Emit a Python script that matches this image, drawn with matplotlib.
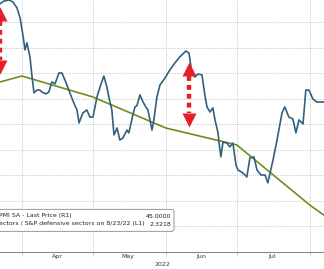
import numpy as np
import matplotlib
matplotlib.use('Agg')
import matplotlib.pyplot as plt
import matplotlib.dates as mdates
from matplotlib.patches import FancyBboxPatch
from datetime import datetime

# cyclicals / defensives ratio (L1), days counted from 2022-04-01
ratio_days = [-9.3, -7.6, -5.5, -3.8, -2.1, -0.8, 0.4, 1.3, 2.1, 3.4,
              4.2, 5.1, 6.4, 7.6, 8.5, 10.2, 11.4, 12.7, 14.0, 15.7,
              16.9, 18.2, 20.3, 22.0, 23.3, 24.2, 25.8, 27.5, 28.8, 30.1,
              31.8, 33.1, 34.7, 36.0, 36.9, 38.1, 39.0, 40.3, 41.5, 42.8,
              44.5, 45.3, 47.0, 47.9, 48.7, 50.0, 51.3, 52.5, 53.4, 55.1,
              55.9, 57.2, 58.5, 60.6, 62.7, 64.8, 66.9, 69.5, 70.8, 72.0,
              73.3, 74.6, 76.3, 77.5, 78.4, 79.7, 80.9, 81.8, 83.1, 83.5,
              84.3, 85.2, 86.9, 88.1, 89.4, 90.7, 91.5, 93.6, 95.3, 96.6,
              98.3, 99.6, 101.3, 103.0, 104.2, 106.4, 108.1, 110.2, 111.4, 113.1,
              114.8, 116.1, 117.4, 119.1, 120.3, 121.6, 123.3, 125.0, 128.0]
ratio_vals = [9.73, 9.84, 9.88, 9.80, 9.57, 9.18, 8.51, 7.92, 8.20, 7.65,
              6.94, 6.24, 6.35, 6.35, 6.27, 6.20, 6.27, 6.67, 6.59, 7.02,
              7.02, 6.75, 6.24, 5.84, 5.57, 5.06, 5.45, 5.57, 5.29, 5.29,
              6.08, 6.47, 6.90, 6.47, 6.04, 5.57, 4.59, 4.86, 4.39, 4.47,
              4.78, 4.67, 5.37, 5.69, 5.73, 6.16, 5.88, 5.69, 5.57, 4.78,
              5.18, 6.08, 6.55, 6.82, 7.14, 7.41, 7.65, 7.88, 7.80, 7.02,
              6.86, 6.98, 6.94, 6.16, 5.69, 5.49, 5.65, 5.18, 4.67, 4.31,
              3.73, 4.31, 4.27, 4.12, 4.27, 3.41, 3.22, 3.10, 2.94, 3.69,
              3.73, 3.22, 3.02, 3.02, 2.71, 3.61, 4.39, 5.45, 5.69, 5.29,
              5.22, 4.67, 5.18, 5.02, 6.35, 6.35, 6.00, 5.88, 5.88]

# PMI (R1), monthly points
pmi_months = ['2022-03-01', '2022-04-01', '2022-05-01', '2022-06-01',
              '2022-07-01', '2022-08-01', '2022-09-01']
pmi_vals = [6.12, 6.90, 6.08, 4.86, 4.20, 1.84, -0.2]

month_ticks = ['2022-04-01', '2022-05-01', '2022-06-01', '2022-07-01', '2022-08-01']
month_labels = ['Apr', 'May', 'Jun', 'Jul']
label_pos = ['2022-04-16', '2022-05-16', '2022-06-16', '2022-07-16']

legend_lines = ['PMI SA - Last Price (R1)',
                'ectors / S&P defensive sectors on 8/23/22 (L1)']
legend_vals = ['45.0000', '2.3218']

# red arrows: (day offset, top tip, bottom tip)
arrows = [(-9.3, 9.62, 6.98), (70.6, 7.45, 4.90)]

base = mdates.date2num(datetime(2022, 4, 1))
to_num = lambda s: mdates.date2num(datetime.strptime(s, '%Y-%m-%d'))

fig = plt.figure(figsize=(3.24, 2.69), dpi=100)
ax = fig.add_axes([0, 17 / 269, 1, 252 / 269])

blue = '#33607f'
green = '#6f8f1c'
red = '#e5202b'
grid = '#c4c4c4'

ax.plot(base + np.array(ratio_days), ratio_vals, color=blue, lw=1.2, zorder=3)
ax.plot([to_num(m) for m in pmi_months], pmi_vals, color=green, lw=1.2, zorder=2)

ax.set_xlim(base - 9.3, base + 128.0)
ax.set_ylim(0, 9.88)

for s in ['top', 'left', 'right']:
    ax.spines[s].set_visible(False)
ax.spines['bottom'].set_color('#8a8a8a')
ax.spines['bottom'].set_linewidth(0.8)

ax.set_yticks(range(1, 10))
ax.tick_params(axis='y', length=0, labelleft=False)
ax.set_xticks([to_num(m) for m in month_ticks])
ax.set_xticklabels([])
ax.set_xticks([to_num(m) for m in label_pos], minor=True)
ax.set_xticklabels(month_labels, minor=True)
ax.tick_params(axis='x', which='major', length=3, color=grid, width=0.6)
ax.tick_params(axis='x', which='minor', length=0, pad=1.5, labelsize=4.5,
               labelcolor='#333333')
ax.set_xlabel('2022', fontsize=4.5, labelpad=0.5, color='#333333')
ax.grid(True, which='major', color=grid, linestyle=(0, (1, 1.3)), lw=0.7)

# dotted double arrows
head = 0.55
for d, top, bot in arrows:
    xx = base + d
    ax.plot([xx, xx], [top - head, bot + head], color=red, lw=3.2,
            linestyle=(0, (1.1, 0.9)), solid_capstyle='butt', zorder=5)
    ax.plot(xx, top - head / 2, marker='^', ms=10.5, color=red, mec='none', zorder=5)
    ax.plot(xx, bot + head / 2, marker='v', ms=10.5, color=red, mec='none', zorder=5)

# legend box (cut off at the left)
box = FancyBboxPatch((-0.05, 39 / 269 - 17 / 269), 0.587, 22 / 252,
                     boxstyle='round,pad=0,rounding_size=0.008',
                     transform=ax.transAxes, fc='white', ec='#999999', lw=0.7,
                     zorder=6)
ax.add_patch(box)
ys = [(252 - 216) / 252, (252 - 224) / 252]
for t, v, y in zip(legend_lines, legend_vals, ys):
    ax.text(-0.002, y, t, transform=ax.transAxes, fontsize=4.5, va='center',
            ha='left', color='#222222', zorder=7)
    ax.text(0.528, y, v, transform=ax.transAxes, fontsize=4.5, va='center',
            ha='right', color='#222222', zorder=7)

fig.savefig('out.png', dpi=100, facecolor='white')
